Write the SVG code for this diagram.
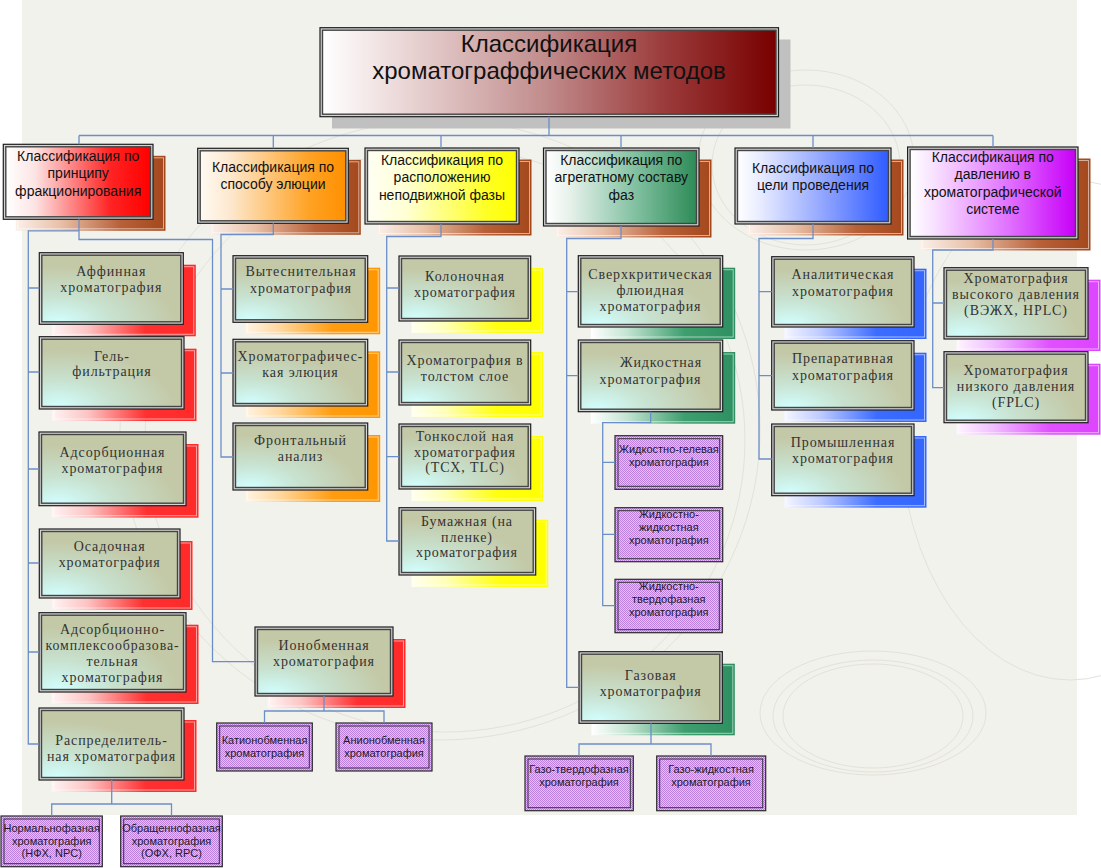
<svg xmlns="http://www.w3.org/2000/svg" width="1101" height="868" viewBox="0 0 1101 868">
<defs>
<style>
.bg{fill:#f2f2ec}
.deco{fill:none;stroke:#e2e2da;stroke-width:1}
.conn{fill:none;stroke:#6c8ec8;stroke-width:1.3}
.outer{stroke:#1e1e1e;stroke-width:1.2;fill:#d4d4d4}
.inner{stroke:#444;stroke-width:1.4}
.gg{fill:url(#gg)}
.shl{fill:none;stroke:#fff;stroke-opacity:.55;stroke-width:1}
.pb{fill:url(#pp);stroke:#2a2a2a;stroke-width:1.2}
.pi{fill:none;stroke:#333;stroke-width:1}
.t{font-family:"Liberation Serif","Times New Roman",serif;font-size:14px;fill:#333;letter-spacing:0.9px;text-anchor:middle}
.h{font-family:"Liberation Sans",Arial,sans-serif;font-size:14px;fill:#111;text-anchor:middle}
.p{font-family:"Liberation Sans",Arial,sans-serif;font-size:11px;fill:#1a1a1a;text-anchor:middle}
.ti{font-family:"Liberation Sans",Arial,sans-serif;font-size:24px;fill:#111;text-anchor:middle}
</style>
<radialGradient id="gg" cx="0.12" cy="1" r="0.85">
<stop offset="0" stop-color="#d2fefe"/><stop offset="0.45" stop-color="#c8e2d0"/><stop offset="1" stop-color="#c3c8a6"/>
</radialGradient>
<linearGradient id="tg"><stop offset="0" stop-color="#fff"/><stop offset="0.12" stop-color="#f2e4e4"/><stop offset="0.5" stop-color="#c08a8a"/><stop offset="0.75" stop-color="#9c3c3c"/><stop offset="1" stop-color="#780000"/></linearGradient>
<linearGradient id="hR"><stop offset="0" stop-color="#fff"/><stop offset="0.2" stop-color="#fde4e4"/><stop offset="0.72" stop-color="#ff2424"/><stop offset="1" stop-color="#ff0000"/></linearGradient>
<linearGradient id="hO"><stop offset="0" stop-color="#fffaf2"/><stop offset="0.2" stop-color="#fde9d0"/><stop offset="0.75" stop-color="#ffa224"/><stop offset="1" stop-color="#ff9000"/></linearGradient>
<linearGradient id="hY"><stop offset="0" stop-color="#fffff4"/><stop offset="0.25" stop-color="#ffffd6"/><stop offset="0.8" stop-color="#ffff24"/><stop offset="1" stop-color="#ffff00"/></linearGradient>
<linearGradient id="hG"><stop offset="0" stop-color="#fff"/><stop offset="0.15" stop-color="#e8f2ec"/><stop offset="0.6" stop-color="#80c0a0"/><stop offset="1" stop-color="#2e8b57"/></linearGradient>
<linearGradient id="hB"><stop offset="0" stop-color="#fff"/><stop offset="0.15" stop-color="#e8ecff"/><stop offset="0.6" stop-color="#8aa0ff"/><stop offset="1" stop-color="#2f5cff"/></linearGradient>
<linearGradient id="hM"><stop offset="0" stop-color="#fff"/><stop offset="0.15" stop-color="#f8e0ff"/><stop offset="0.6" stop-color="#e070ff"/><stop offset="1" stop-color="#c800f8"/></linearGradient>
<linearGradient id="sBr"><stop offset="0" stop-color="#fbf0ea"/><stop offset="0.3" stop-color="#e8c0a8"/><stop offset="0.7" stop-color="#b86038"/><stop offset="1" stop-color="#a4481c"/></linearGradient>
<linearGradient id="sR"><stop offset="0" stop-color="#fff4f4"/><stop offset="0.25" stop-color="#fcc4c4"/><stop offset="0.65" stop-color="#ff3030"/><stop offset="1" stop-color="#ff2a2a"/></linearGradient>
<linearGradient id="sO"><stop offset="0" stop-color="#fff4e4"/><stop offset="0.25" stop-color="#ffd8a0"/><stop offset="0.65" stop-color="#ff9c10"/><stop offset="1" stop-color="#ff9600"/></linearGradient>
<linearGradient id="sY"><stop offset="0" stop-color="#fffff0"/><stop offset="0.25" stop-color="#ffffb8"/><stop offset="0.65" stop-color="#ffff10"/><stop offset="1" stop-color="#ffff00"/></linearGradient>
<linearGradient id="sG"><stop offset="0" stop-color="#fff"/><stop offset="0.25" stop-color="#c4e4d2"/><stop offset="0.65" stop-color="#3e9e6e"/><stop offset="1" stop-color="#2e9062"/></linearGradient>
<linearGradient id="sB"><stop offset="0" stop-color="#f4f6ff"/><stop offset="0.25" stop-color="#c0ccff"/><stop offset="0.65" stop-color="#3c6cff"/><stop offset="1" stop-color="#3366ff"/></linearGradient>
<linearGradient id="sM"><stop offset="0" stop-color="#fff4ff"/><stop offset="0.25" stop-color="#f0c0ff"/><stop offset="0.65" stop-color="#e050ff"/><stop offset="1" stop-color="#dd44ff"/></linearGradient>
<pattern id="pp" width="2" height="2" patternUnits="userSpaceOnUse">
<rect width="2" height="2" fill="#e4c2f8"/><rect width="1" height="1" fill="#bb80dc"/><rect x="1" y="1" width="1" height="1" fill="#bb80dc"/>
</pattern>
</defs>

<rect width="1101" height="868" fill="#fff"/>
<rect class="bg" x="22" y="0" width="1055" height="815"/>
<g id="decor">
<ellipse class="deco" cx="873" cy="713" rx="113" ry="62"/>
<ellipse class="deco" cx="873" cy="716" rx="100" ry="56"/>
<ellipse class="deco" cx="873" cy="716" rx="90" ry="52"/>
<ellipse class="deco" cx="806" cy="160" rx="108" ry="90"/>
<ellipse class="deco" cx="806" cy="165" rx="94" ry="80"/>
<ellipse class="deco" cx="440" cy="430" rx="320" ry="310"/>
<ellipse class="deco" cx="445" cy="440" rx="300" ry="292"/>
<ellipse class="deco" cx="1070" cy="430" rx="170" ry="250"/>
</g>

<g id="title">
<rect x="332" y="39.5" width="458.5" height="89" fill="#c0c0c0"/>
<rect class="outer" x="320" y="27.7" width="458.5" height="89"/>
<rect class="inner" x="322.5" y="30.2" width="453.5" height="84" fill="url(#tg)"/>
<text class="ti" x="549" y="52">Классификация</text>
<text class="ti" x="549" y="79">хроматограффических методов</text>
</g>

<g id="h-fract">
<rect x="15.8" y="155.8" width="149.7" height="75" fill="url(#sBr)"/><rect class="shl" x="17.8" y="157.8" width="145.7" height="71"/>
<rect class="outer" x="3.3" y="144.3" width="149.7" height="75"/>
<rect class="inner" x="5.8" y="146.8" width="144.7" height="70" fill="url(#hR)"/>
<text class="h" x="78.2" y="160.7">Классификация по</text>
<text class="h" x="78.2" y="178.2">принципу</text>
<text class="h" x="78.2" y="195.7">фракционирования</text>
</g>
<g id="h-elution">
<rect x="210.2" y="159.8" width="150.6" height="75" fill="url(#sBr)"/><rect class="shl" x="212.2" y="161.8" width="146.6" height="71"/>
<rect class="outer" x="197.7" y="148.3" width="150.6" height="75"/>
<rect class="inner" x="200.2" y="150.8" width="145.6" height="70" fill="url(#hO)"/>
<text class="h" x="273" y="171.7">Классификация по</text>
<text class="h" x="273" y="189.2">способу элюции</text>
</g>
<g id="h-station">
<rect x="377.5" y="159.5" width="154" height="76" fill="url(#sBr)"/><rect class="shl" x="379.5" y="161.5" width="150" height="72"/>
<rect class="outer" x="365" y="148" width="154" height="76"/>
<rect class="inner" x="367.5" y="150.5" width="149" height="71" fill="url(#hY)"/>
<text class="h" x="442" y="164.8">Классификация по</text>
<text class="h" x="442" y="182.3">расположению</text>
<text class="h" x="442" y="199.8">неподвижной фазы</text>
</g>
<g id="h-aggregate">
<rect x="556" y="159.5" width="155.5" height="78" fill="url(#sBr)"/><rect class="shl" x="558" y="161.5" width="151.5" height="74"/>
<rect class="outer" x="543.5" y="148" width="155.5" height="78"/>
<rect class="inner" x="546" y="150.5" width="150.5" height="73" fill="url(#hG)"/>
<text class="h" x="621.3" y="164.8">Классификация по</text>
<text class="h" x="621.3" y="182.3">агрегатному составу</text>
<text class="h" x="621.3" y="199.8">фаз</text>
</g>
<g id="h-purpose">
<rect x="747.5" y="159.5" width="156" height="76" fill="url(#sBr)"/><rect class="shl" x="749.5" y="161.5" width="152" height="72"/>
<rect class="outer" x="735" y="148" width="156" height="76"/>
<rect class="inner" x="737.5" y="150.5" width="151" height="71" fill="url(#hB)"/>
<text class="h" x="813" y="172.5">Классификация по</text>
<text class="h" x="813" y="190">цели проведения</text>
</g>
<g id="h-pressure">
<rect x="920.1" y="158.5" width="170.4" height="92" fill="url(#sBr)"/><rect class="shl" x="922.1" y="160.5" width="166.4" height="88"/>
<rect class="outer" x="907.6" y="147" width="170.4" height="92"/>
<rect class="inner" x="910.1" y="149.5" width="165.4" height="87" fill="url(#hM)"/>
<text class="h" x="992.8" y="161.5">Классификация по</text>
<text class="h" x="992.8" y="179">давлению в</text>
<text class="h" x="992.8" y="196.5">хроматографической</text>
<text class="h" x="992.8" y="214">системе</text>
</g>

<!-- red column -->
<g id="n-affinity">
<rect x="51.8" y="264.7" width="144" height="71.6" fill="url(#sR)"/><rect class="shl" x="53.8" y="266.7" width="140" height="67.6"/>
<rect class="outer" x="39.3" y="252.7" width="144" height="71.6"/>
<rect class="inner gg" x="41.8" y="255.2" width="139" height="66.6"/>
<text class="t" x="111.3" y="276">Аффинная</text>
<text class="t" x="111.3" y="292.3">хроматография</text>
</g>
<g id="n-gel">
<rect x="51.8" y="348.7" width="144.7" height="72.3" fill="url(#sR)"/><rect class="shl" x="53.8" y="350.7" width="140.7" height="68.3"/>
<rect class="outer" x="39.3" y="336.7" width="144.7" height="72.3"/>
<rect class="inner gg" x="41.8" y="339.2" width="139.7" height="67.3"/>
<text class="t" x="112" y="360.7">Гель-</text>
<text class="t" x="112" y="376.3">фильтрация</text>
</g>
<g id="n-adsorption">
<rect x="51.5" y="444" width="147" height="73.7" fill="url(#sR)"/><rect class="shl" x="53.5" y="446" width="143" height="69.7"/>
<rect class="outer" x="39" y="432" width="147" height="73.7"/>
<rect class="inner gg" x="41.5" y="434.5" width="142" height="68.7"/>
<text class="t" x="112.5" y="456.7">Адсорбционная</text>
<text class="t" x="112.5" y="473">хроматография</text>
</g>
<g id="n-sediment">
<rect x="51.8" y="541" width="140.7" height="69" fill="url(#sR)"/><rect class="shl" x="53.8" y="543" width="136.7" height="65"/>
<rect class="outer" x="39.3" y="529" width="140.7" height="69"/>
<rect class="inner gg" x="41.8" y="531.5" width="135.7" height="64"/>
<text class="t" x="109.7" y="551.3">Осадочная</text>
<text class="t" x="109.7" y="567.3">хроматография</text>
</g>
<g id="n-complex">
<rect x="51.5" y="624.7" width="147" height="79.3" fill="url(#sR)"/><rect class="shl" x="53.5" y="626.7" width="143" height="75.3"/>
<rect class="outer" x="39" y="612.7" width="147" height="79.3"/>
<rect class="inner gg" x="41.5" y="615.2" width="142" height="74.3"/>
<text class="t" x="112.5" y="634">Адсорбционно-</text>
<text class="t" x="112.5" y="650" textLength="134" lengthAdjust="spacingAndGlyphs">комплексообразова-</text>
<text class="t" x="112.5" y="665.7">тельная</text>
<text class="t" x="112.5" y="681.7">хроматография</text>
</g>
<g id="n-partition">
<rect x="51.5" y="720" width="145" height="72" fill="url(#sR)"/><rect class="shl" x="53.5" y="722" width="141" height="68"/>
<rect class="outer" x="39" y="708" width="145" height="72"/>
<rect class="inner gg" x="41.5" y="710.5" width="140" height="67"/>
<text class="t" x="111.5" y="744.7">Распределитель-</text>
<text class="t" x="111.5" y="760.7">ная хроматография</text>
</g>
<g id="n-ionexchange">
<rect x="267.5" y="639" width="138" height="69" fill="url(#sR)"/><rect class="shl" x="269.5" y="641" width="134" height="65"/>
<rect class="outer" x="255" y="627" width="138" height="69"/>
<rect class="inner gg" x="257.5" y="629.5" width="133" height="64"/>
<text class="t" x="324" y="649.7">Ионобменная</text>
<text class="t" x="324" y="665.7">хроматография</text>
</g>

<!-- orange column -->
<g id="n-displacement">
<rect x="245.5" y="267.7" width="134.7" height="66.6" fill="url(#sO)"/><rect class="shl" x="247.5" y="269.7" width="130.7" height="62.6"/>
<rect class="outer" x="233" y="255.7" width="134.7" height="66.6"/>
<rect class="inner gg" x="235.5" y="258.2" width="129.7" height="61.6"/>
<text class="t" x="301" y="276.3">Вытеснительная</text>
<text class="t" x="301" y="293">хроматография</text>
</g>
<g id="n-elution">
<rect x="245.5" y="351.3" width="134.7" height="66.7" fill="url(#sO)"/><rect class="shl" x="247.5" y="353.3" width="130.7" height="62.7"/>
<rect class="outer" x="233" y="339.3" width="134.7" height="66.7"/>
<rect class="inner gg" x="235.5" y="341.8" width="129.7" height="61.7"/>
<text class="t" x="300.5" y="360.7">Хроматографичес-</text>
<text class="t" x="300.5" y="376.7">кая элюция</text>
</g>
<g id="n-frontal">
<rect x="245.5" y="435" width="134.7" height="67" fill="url(#sO)"/><rect class="shl" x="247.5" y="437" width="130.7" height="63"/>
<rect class="outer" x="233" y="423" width="134.7" height="67"/>
<rect class="inner gg" x="235.5" y="425.5" width="129.7" height="62"/>
<text class="t" x="300.5" y="444.7">Фронтальный</text>
<text class="t" x="300.5" y="460.7">анализ</text>
</g>

<!-- yellow column -->
<g id="n-column">
<rect x="411.5" y="268" width="131.7" height="65" fill="url(#sY)"/><rect class="shl" x="413.5" y="270" width="127.7" height="61"/>
<rect class="outer" x="399" y="256" width="131.7" height="65"/>
<rect class="inner gg" x="401.5" y="258.5" width="126.7" height="60"/>
<text class="t" x="465" y="280.7">Колоночная</text>
<text class="t" x="465" y="296.7">хроматография</text>
</g>
<g id="n-thicklayer">
<rect x="411.5" y="352" width="131.7" height="65" fill="url(#sY)"/><rect class="shl" x="413.5" y="354" width="127.7" height="61"/>
<rect class="outer" x="399" y="340" width="131.7" height="65"/>
<rect class="inner gg" x="401.5" y="342.5" width="126.7" height="60"/>
<text class="t" x="465" y="364.7">Хроматография в</text>
<text class="t" x="465" y="380.7">толстом слое</text>
</g>
<g id="n-thinlayer">
<rect x="411.5" y="436" width="131.7" height="65" fill="url(#sY)"/><rect class="shl" x="413.5" y="438" width="127.7" height="61"/>
<rect class="outer" x="399" y="424" width="131.7" height="65"/>
<rect class="inner gg" x="401.5" y="426.5" width="126.7" height="60"/>
<text class="t" x="465" y="440.7">Тонкослой ная</text>
<text class="t" x="465" y="456.7">хроматография</text>
<text class="t" x="465" y="472">(ТСХ, TLC)</text>
</g>
<g id="n-paper">
<rect x="411.5" y="519.7" width="136.7" height="67.3" fill="url(#sY)"/><rect class="shl" x="413.5" y="521.7" width="132.7" height="63.3"/>
<rect class="outer" x="399" y="507.7" width="136.7" height="67.3"/>
<rect class="inner gg" x="401.5" y="510.2" width="131.7" height="62.3"/>
<text class="t" x="467" y="526">Бумажная (на</text>
<text class="t" x="467" y="541.7">пленке)</text>
<text class="t" x="467" y="557.3">хроматография</text>
</g>

<!-- green column -->
<g id="n-supercritical">
<rect x="590.8" y="267.7" width="144.4" height="71.3" fill="url(#sG)"/><rect class="shl" x="592.8" y="269.7" width="140.4" height="67.3"/>
<rect class="outer" x="578.3" y="255.7" width="144.4" height="71.3"/>
<rect class="inner gg" x="580.8" y="258.2" width="139.4" height="66.3"/>
<text class="t" x="650.5" y="279">Сверхкритическая</text>
<text class="t" x="650.5" y="295">флюидная</text>
<text class="t" x="650.5" y="311">хроматография</text>
</g>
<g id="n-liquid">
<rect x="590.8" y="352" width="144.4" height="71.7" fill="url(#sG)"/><rect class="shl" x="592.8" y="354" width="140.4" height="67.7"/>
<rect class="outer" x="578.3" y="340" width="144.4" height="71.7"/>
<rect class="inner gg" x="580.8" y="342.5" width="139.4" height="66.7"/>
<text class="t" x="661" y="367.3">Жидкостная</text>
<text class="t" x="650.5" y="384">хроматография</text>
</g>
<g id="n-gas">
<rect x="591.5" y="663.7" width="143.3" height="71.6" fill="url(#sG)"/><rect class="shl" x="593.5" y="665.7" width="139.3" height="67.6"/>
<rect class="outer" x="579" y="651.7" width="143.3" height="71.6"/>
<rect class="inner gg" x="581.5" y="654.2" width="138.3" height="66.6"/>
<text class="t" x="650.7" y="679.7">Газовая</text>
<text class="t" x="650.7" y="695.7">хроматография</text>
</g>

<!-- blue column -->
<g id="n-analytical">
<rect x="784.2" y="268.7" width="142.3" height="70.3" fill="url(#sB)"/><rect class="shl" x="786.2" y="270.7" width="138.3" height="66.3"/>
<rect class="outer" x="771.7" y="256.7" width="142.3" height="70.3"/>
<rect class="inner gg" x="774.2" y="259.2" width="137.3" height="65.3"/>
<text class="t" x="843" y="279">Аналитическая</text>
<text class="t" x="843" y="295.7">хроматография</text>
</g>
<g id="n-preparative">
<rect x="784.2" y="352.7" width="142.3" height="69.3" fill="url(#sB)"/><rect class="shl" x="786.2" y="354.7" width="138.3" height="65.3"/>
<rect class="outer" x="771.7" y="340.7" width="142.3" height="69.3"/>
<rect class="inner gg" x="774.2" y="343.2" width="137.3" height="64.3"/>
<text class="t" x="843" y="363">Препаративная</text>
<text class="t" x="843" y="379.7">хроматография</text>
</g>
<g id="n-industrial">
<rect x="784.2" y="436" width="142.3" height="71.7" fill="url(#sB)"/><rect class="shl" x="786.2" y="438" width="138.3" height="67.7"/>
<rect class="outer" x="771.7" y="424" width="142.3" height="71.7"/>
<rect class="inner gg" x="774.2" y="426.5" width="137.3" height="66.7"/>
<text class="t" x="843" y="446.7">Промышленная</text>
<text class="t" x="843" y="463.3">хроматография</text>
</g>

<!-- magenta column -->
<g id="n-highpressure">
<rect x="956.5" y="279.7" width="144" height="71.3" fill="url(#sM)"/><rect class="shl" x="958.5" y="281.7" width="140" height="67.3"/>
<rect class="outer" x="944" y="267.7" width="144" height="71.3"/>
<rect class="inner gg" x="946.5" y="270.2" width="139" height="66.3"/>
<text class="t" x="1016" y="283">Хроматография</text>
<text class="t" x="1016" y="299">высокого давления</text>
<text class="t" x="1016" y="315">(ВЭЖХ, HPLC)</text>
</g>
<g id="n-lowpressure">
<rect x="956.5" y="363.7" width="144" height="71" fill="url(#sM)"/><rect class="shl" x="958.5" y="365.7" width="140" height="67"/>
<rect class="outer" x="944" y="351.7" width="144" height="71"/>
<rect class="inner gg" x="946.5" y="354.2" width="139" height="66"/>
<text class="t" x="1016" y="374.7">Хроматография</text>
<text class="t" x="1016" y="391.3">низкого давления</text>
<text class="t" x="1016" y="406.7">(FPLC)</text>
</g>

<!-- purple leaf nodes -->
<g id="p-liquidgel">
<rect class="pb" x="615" y="435.7" width="107.7" height="53.6"/><rect class="pi" x="618" y="438.7" width="101.7" height="47.6"/>
<text class="p" x="668.8" y="453.3">Жидкостно-гелевая</text>
<text class="p" x="668.8" y="466.3">хроматография</text>
</g>
<g id="p-liquidliquid">
<rect class="pb" x="615" y="507.7" width="107.7" height="54"/><rect class="pi" x="618" y="510.7" width="101.7" height="48"/>
<text class="p" x="668.8" y="518.3">Жидкостно-</text>
<text class="p" x="668.8" y="531.3">жидкостная</text>
<text class="p" x="668.8" y="544.3">хроматография</text>
</g>
<g id="p-liquidsolid">
<rect class="pb" x="615" y="579.3" width="107.3" height="53.4"/><rect class="pi" x="618" y="582.3" width="101.3" height="47.4"/>
<text class="p" x="668.7" y="589.7">Жидкостно-</text>
<text class="p" x="668.7" y="602.7">твердофазная</text>
<text class="p" x="668.7" y="615.7">хроматография</text>
</g>
<g id="p-cation">
<rect class="pb" x="216.7" y="723" width="95.6" height="48"/><rect class="pi" x="219.7" y="726" width="89.6" height="42"/>
<text class="p" x="264.5" y="744">Катионобменная</text>
<text class="p" x="264.5" y="757">хроматография</text>
</g>
<g id="p-anion">
<rect class="pb" x="336" y="723" width="96" height="48"/><rect class="pi" x="339" y="726" width="90" height="42"/>
<text class="p" x="384" y="744">Анионобменная</text>
<text class="p" x="384" y="757">хроматография</text>
</g>
<g id="p-normal">
<rect class="pb" x="1" y="816" width="101.3" height="50.7"/><rect class="pi" x="4" y="819" width="95.3" height="44.7"/>
<text class="p" x="51.7" y="831.7">Нормальнофазная</text>
<text class="p" x="51.7" y="844.7">хроматография</text>
<text class="p" x="51.7" y="857.3">(НФХ, NPC)</text>
</g>
<g id="p-reversed">
<rect class="pb" x="120.7" y="816" width="101.6" height="50.7"/><rect class="pi" x="123.7" y="819" width="95.6" height="44.7"/>
<text class="p" x="171.5" y="831.7">Обращеннофазная</text>
<text class="p" x="171.5" y="844.7">хроматография</text>
<text class="p" x="171.5" y="857.3">(ОФХ, RPC)</text>
</g>
<g id="p-gassolid">
<rect class="pb" x="525" y="756" width="108.3" height="54.7"/><rect class="pi" x="528" y="759" width="102.3" height="48.7"/>
<text class="p" x="579" y="773.3">Газо-твердофазная</text>
<text class="p" x="579" y="786.3">хроматография</text>
</g>
<g id="p-gasliquid">
<rect class="pb" x="656.7" y="756" width="109" height="54.7"/><rect class="pi" x="659.7" y="759" width="103" height="48.7"/>
<text class="p" x="711" y="773.3">Газо-жидкостная</text>
<text class="p" x="711" y="786.3">хроматография</text>
</g>

<g id="connectors" class="conn">
<path d="M549,116.7 V135.5 M79,135.5 H993 M79,135.5 V144.3 M273.3,135.5 V148.3 M441,135.5 V148 M621,135.5 V148 M813,135.5 V148 M993,135.5 V147"/>
<path d="M79,219.3 V239.5 H212.5 V661.7 H255 M79,230.8 H28.3 V744 H39 M28.3,288 H39.3 M28.3,372 H39.3 M28.3,469 H39 M28.3,563 H39.3 M28.3,652 H39"/>
<path d="M273.3,223.3 V234.5 H221 V457 H233 M221,289 H233 M221,373 H233"/>
<path d="M441,224 V236.5 H386.7 V541 H399 M386.7,288 H399 M386.7,372 H399 M386.7,456.7 H399"/>
<path d="M621,226 V238.5 H566.7 V687.3 H579 M566.7,291.7 H578.3 M566.7,375.7 H578.3"/>
<path d="M650.7,411.7 V422.7 H602.7 V605.7 H615 M602.7,462.3 H615 M602.7,534.3 H615"/>
<path d="M651,723.3 V744 M579,756 V744 H711 V756"/>
<path d="M813,224 V238.5 H759 V459 H771.7 M759,291.7 H771.7 M759,375.7 H771.7"/>
<path d="M993,239 V250 H932.7 V387.7 H944 M932.7,303 H944"/>
<path d="M324,696 V711 M264.5,723 V711 H384 V723"/>
<path d="M111.7,780 V804 M51.7,816 V804 H171.5 V816"/>
</g>
</svg>
